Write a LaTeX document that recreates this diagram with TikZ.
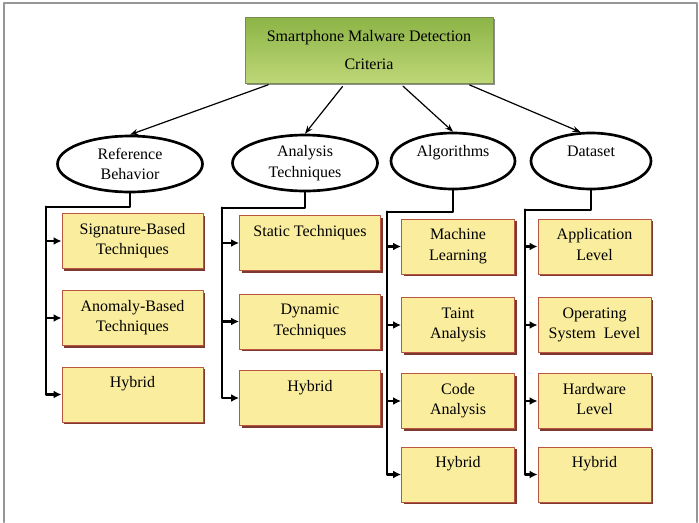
\documentclass[tikz,border=0pt]{standalone}
\usepackage{fontspec}
\setmainfont{Liberation Serif}
\usetikzlibrary{arrows.meta,shapes.geometric,shadows}
\definecolor{boxfill}{RGB}{250,238,158}
\definecolor{boxline}{RGB}{185,85,65}
\definecolor{boxshade}{RGB}{110,35,25}
\definecolor{topdark}{RGB}{140,180,70}
\definecolor{toplight}{RGB}{190,215,120}
\definecolor{topline}{RGB}{120,140,80}
\definecolor{framegray}{RGB}{150,150,150}

\begin{document}
\begin{tikzpicture}[x=0.75pt,y=-0.75pt,line cap=round,line join=round,
  font=\fontsize{12}{15.5}\selectfont,
  crit/.style={rectangle,draw=topline,line width=0.6pt,top color=topdark,bottom color=toplight,
    minimum width=186pt,minimum height=49.5pt,align=center,
    drop shadow={shadow xshift=1.5pt,shadow yshift=-1.5pt,fill=black!55,opacity=0.8}},
  cat/.style={ellipse,draw=black,line width=2pt,fill=white,inner sep=0pt,align=center,
    minimum width=108.75pt,minimum height=42pt},
  item/.style={rectangle,draw=boxline,line width=0.7pt,fill=boxfill,align=center,
    inner xsep=2pt,inner ysep=0pt,text height=15.5pt,text depth=25.75pt,
    minimum width=105.75pt,minimum height=41.25pt,
    drop shadow={shadow xshift=1.8pt,shadow yshift=-1.8pt,fill=boxshade,opacity=0.9}},
  twoline/.style={text height=31pt,text depth=10.25pt},
  narrow/.style={item,minimum width=84.75pt},
  feed/.style={line width=0.9pt,-{Stealth[length=6pt,width=4.5pt]},shorten <=3pt},
  trunk/.style={line width=2pt},
  branch/.style={line width=2pt,-{Latex[length=6pt,width=6pt]}}]
\useasboundingbox (0,0) rectangle (699,522);
\draw[framegray,line width=1.5pt] (4,522) -- (4,3) -- (697,3) -- (697,522);

% root and the four criteria
\node[crit] (top) at (369,50) {Smartphone Malware Detection\\[5.5pt]Criteria};
\node[cat] (ref) at (130,164) {Reference\\Behavior};
\node[cat] (ana) at (305,163) {Analysis\\Techniques};
\node[cat,minimum width=93pt,text depth=15pt] (alg) at (453,161) {Algorithms};
\node[cat,minimum width=90pt,text depth=15pt] (data) at (591,161) {Dataset};

\draw[feed] ([xshift=-72.75pt]top.south) -- (ref.north);
\draw[feed] ([xshift=-18pt]top.south) -- (ana.north);
\draw[feed] ([xshift=23.25pt]top.south) -- (alg.north);
\draw[feed] ([xshift=72.75pt]top.south) -- (data.110);

% reference behavior
\node[item,twoline] (sig) at (132.5,241) {Signature-Based\\Techniques};
\node[item,twoline] (ano) at (132.5,318) {Anomaly-Based\\Techniques};
\node[item] (hyb1) at (132.5,394.5) {Hybrid};
% analysis techniques
\node[item] (sta) at (310,243) {Static Techniques};
\node[item,twoline] (dyn) at (310,321.5) {Dynamic\\Techniques};
\node[item] (hyb2) at (310,398) {Hybrid};
% algorithms
\node[narrow,twoline] (mac) at (458,246.5) {Machine\\Learning};
\node[narrow,twoline] (tai) at (458,325) {Taint\\Analysis};
\node[narrow,twoline] (cod) at (458,401) {Code\\Analysis};
\node[narrow] (hyb3) at (458,474.5) {Hybrid};
% dataset
\node[narrow,twoline] (app) at (594.5,246.5) {Application\\Level};
\node[narrow,twoline] (ope) at (594.5,325) {Operating\\System~ Level};
\node[narrow,twoline] (hwl) at (594.5,401) {Hardware\\Level};
\node[narrow] (hyb4) at (594.5,474.5) {Hybrid};

% trunks
\coordinate (j1) at (46,207);
\coordinate (j2) at (222,208);
\coordinate (j3) at (387,212);
\coordinate (j4) at (525,210);
\draw[trunk] (ref.south) |- (j1);
\draw[trunk] (ana.south) |- (j2);
\draw[trunk] (alg.south) |- (j3);
\draw[trunk] (data.south) |- (j4);
\draw[branch] (j1) |- (sig.west);
\draw[branch] (j1) |- (ano.west);
\draw[branch] (j1) |- (hyb1.west);
\draw[branch] (j2) |- (sta.west);
\draw[branch] (j2) |- (dyn.west);
\draw[branch] (j2) |- (hyb2.west);
\draw[branch] (j3) |- (mac.west);
\draw[branch] (j3) |- (tai.west);
\draw[branch] (j3) |- (cod.west);
\draw[branch] (j3) |- (hyb3.west);
\draw[branch] (j4) |- (app.west);
\draw[branch] (j4) |- (ope.west);
\draw[branch] (j4) |- (hwl.west);
\draw[branch] (j4) |- (hyb4.west);
\end{tikzpicture}
\end{document}
